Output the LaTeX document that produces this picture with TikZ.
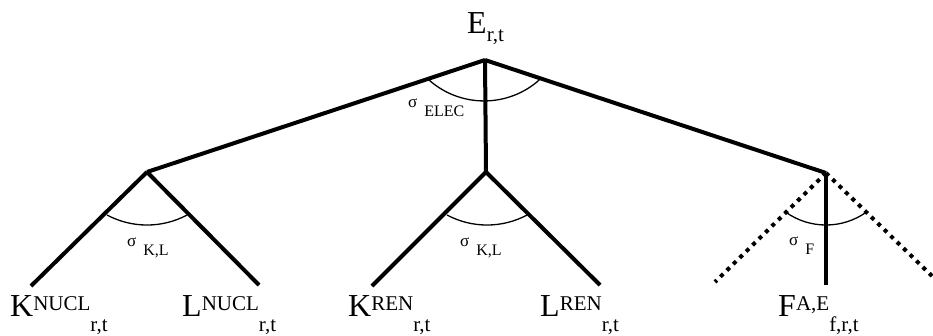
\documentclass[tikz,border=0pt]{standalone}
\usepackage{fontspec}
\setmainfont{Liberation Serif}
\newcommand\biglbl[3]{{\fontsize{32}{32}\selectfont #1}{\fontsize{21}{21}\selectfont\raisebox{6pt}{#2}}\raisebox{-15pt}{\fontsize{21}{21}\selectfont #3}}
\newcommand\siglbl[1]{{\fontsize{17}{17}\selectfont σ}\hspace{7pt}\raisebox{-9pt}{\fontsize{16}{16}\selectfont #1}}
\tikzset{
  branch/.style={line width=4pt},
  dotbranch/.style={line width=4pt, dash pattern=on 4pt off 5pt},
  anglearc/.style={line width=1.3pt},
  lbl/.style={inner sep=0pt, anchor=base west},
}
\begin{document}
\begin{tikzpicture}[x=1pt,y=-1pt]
\useasboundingbox[fill=white] (0,0) rectangle (933,335);
% junctions
\coordinate (E) at (485,60);
\coordinate (N) at (147,172);
\coordinate (R) at (486,172);
\coordinate (F) at (826,173);
% leaves
\coordinate (KN) at (31,286);
\coordinate (LN) at (259,285);
\coordinate (KR) at (372,286);
\coordinate (LR) at (600,285);
\coordinate (FD) at (826,285);
\coordinate (FL) at (715,282);
\coordinate (FR) at (932,276);
% branches
\draw[branch] (E) -- (N);
\draw[branch] (E) -- (R);
\draw[branch] (E) -- (F);
\draw[branch] (N) -- (KN);
\draw[branch] (N) -- (LN);
\draw[branch] (R) -- (KR);
\draw[branch] (R) -- (LR);
\draw[branch] (F) -- (FD);
\draw[dotbranch] (F) -- (FL);
\draw[dotbranch] (F) -- (FR);
% angle arcs
\draw[anglearc] (429,80) arc[start angle=131.6, end angle=48.4, radius=83];
\draw[anglearc] (107,215) arc[start angle=118.1, end angle=61.9, radius=85];
\draw[anglearc] (447,215) arc[start angle=118.1, end angle=61.9, radius=85];
\draw[anglearc] (785.5,212) arc[start angle=125.6, end angle=54.4, radius=69.6];
% labels
\node[lbl] (tE) at (467,33) {{\fontsize{32}{32}\selectfont E}\raisebox{-8pt}{\fontsize{21}{21}\selectfont r,t}};
\node[lbl] (tKN) at (10,316) {\biglbl{K}{NUCL}{r,t}};
\node[lbl] (tLN) at (182,316) {\biglbl{L}{NUCL}{r,t}};
\node[lbl] (tKR) at (348,316) {\biglbl{K}{REN}{r,t}};
\node[lbl] (tLR) at (540,316) {\biglbl{L}{REN}{r,t}};
\node[lbl] (tF) at (778,316) {\biglbl{F}{A,E}{f,r,t}};
\node[lbl] (sE) at (408,107) {\siglbl{ELEC}};
\node[lbl] (sN) at (127,246) {\siglbl{K,L}};
\node[lbl] (sR) at (460,246) {\siglbl{K,L}};
\node[lbl] (sF) at (789,245) {\siglbl{F}};
\end{tikzpicture}
\end{document}
